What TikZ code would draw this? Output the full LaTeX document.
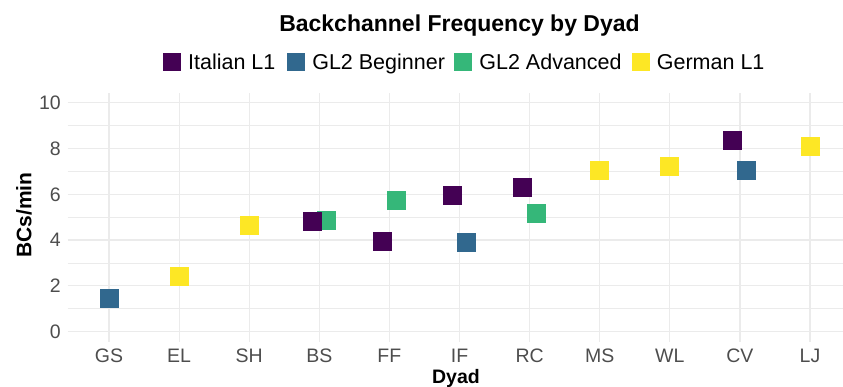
\documentclass[tikz,border=0pt]{standalone}
\usepackage{fontspec}
\setmainfont{Liberation Sans}
\usetikzlibrary{positioning}
\definecolor{italian}{HTML}{440154}
\definecolor{beginner}{HTML}{31688E}
\definecolor{advanced}{HTML}{35B779}
\definecolor{german}{HTML}{FDE725}
\definecolor{gridgray}{HTML}{EBEBEB}
\definecolor{ticktext}{HTML}{4D4D4D}
\tikzset{datapt/.style={rectangle, minimum size=19pt, inner sep=0pt, fill=#1},
         keysq/.style={rectangle, minimum size=18pt, inner sep=0pt, fill=#1},
         keytext/.style={inner sep=0pt, text depth=0pt, font=\fontsize{21.5}{24}\selectfont},
         ticklabel/.style={inner sep=0pt, text=ticktext, font=\fontsize{19.5}{22}\selectfont},
         majorgrid/.style={draw=gridgray, line width=1.2pt},
         minorgrid/.style={draw=gridgray, line width=0.6pt}
}

\begin{document}
\begin{tikzpicture}[x=1pt, y=1pt]
  \useasboundingbox (0,0) rectangle (843,387);
  % title and key
  \node[anchor=base, font=\bfseries\fontsize{23}{26}\selectfont] (title) at (459.5,355.5) {Backchannel Frequency by Dyad};
  \node[keysq=italian] (keyita) at (171.7,325.3) {};
  \node[keytext, right=7pt of keyita] (keyitatext) {Italian L1};
  \node[keysq=beginner] (keybeg) at (295.9,325.3) {};
  \node[keytext, right=7pt of keybeg] (keybegtext) {GL2 Beginner};
  \node[keysq=advanced] (keyadv) at (463,325.3) {};
  \node[keytext, right=7pt of keyadv] (keyadvtext) {GL2 Advanced};
  \node[keysq=german] (keyger) at (640.5,325.3) {};
  \node[keytext, right=7pt of keyger] (keygertext) {German L1};

  % axis titles
  \node[rotate=90, font=\bfseries\fontsize{21}{24}\selectfont] (ylabel) at (24,172) {BCs/min};
  \node[anchor=base, font=\bfseries\fontsize{19.5}{22}\selectfont] (xlabel) at (456,3) {Dyad};

  \begin{scope}[shift={(38.9,55.3)}, x=70.1pt, y=22.9pt]
    % grid
    \foreach \v in {1,3,...,9}
      \draw[minorgrid] (0.41,\v) -- (11.47,\v);
    \foreach \v in {0,2,...,10} {
      \draw[majorgrid] (0.41,\v) -- (11.47,\v);
      \node[ticklabel, anchor=east] (ytick\v) at (0.315,\v) {\v};
    }
    \foreach \d [count=\i] in {GS,EL,SH,BS,FF,IF,RC,MS,WL,CV,LJ} {
      \draw[majorgrid] (\i,-0.44) -- (\i,10.44);
      \node[ticklabel] (xtick\d) at (\i,-1.04) {\d};
    }

    % dyads
    \node[datapt=beginner] (gsbeg) at (1,1.46) {};
    \node[datapt=german] (elger) at (2,2.40) {};
    \node[datapt=german] (shger) at (3,4.62) {};
    \node[datapt=advanced] (bsadv) at (4.1,4.85) {};
    \node[datapt=italian] (bsita) at (3.9,4.80) {};
    \node[datapt=italian] (ffita) at (4.9,3.93) {};
    \node[datapt=advanced] (ffadv) at (5.1,5.75) {};
    \node[datapt=italian] (ifita) at (5.9,5.93) {};
    \node[datapt=beginner] (ifbeg) at (6.1,3.89) {};
    \node[datapt=italian] (rcita) at (6.9,6.29) {};
    \node[datapt=advanced] (rcadv) at (7.1,5.15) {};
    \node[datapt=german] (msger) at (8,7.06) {};
    \node[datapt=german] (wlger) at (9,7.21) {};
    \node[datapt=italian] (cvita) at (9.9,8.37) {};
    \node[datapt=beginner] (cvbeg) at (10.1,7.02) {};
    \node[datapt=german] (ljger) at (11,8.08) {};
  \end{scope}
\end{tikzpicture}
\end{document}
